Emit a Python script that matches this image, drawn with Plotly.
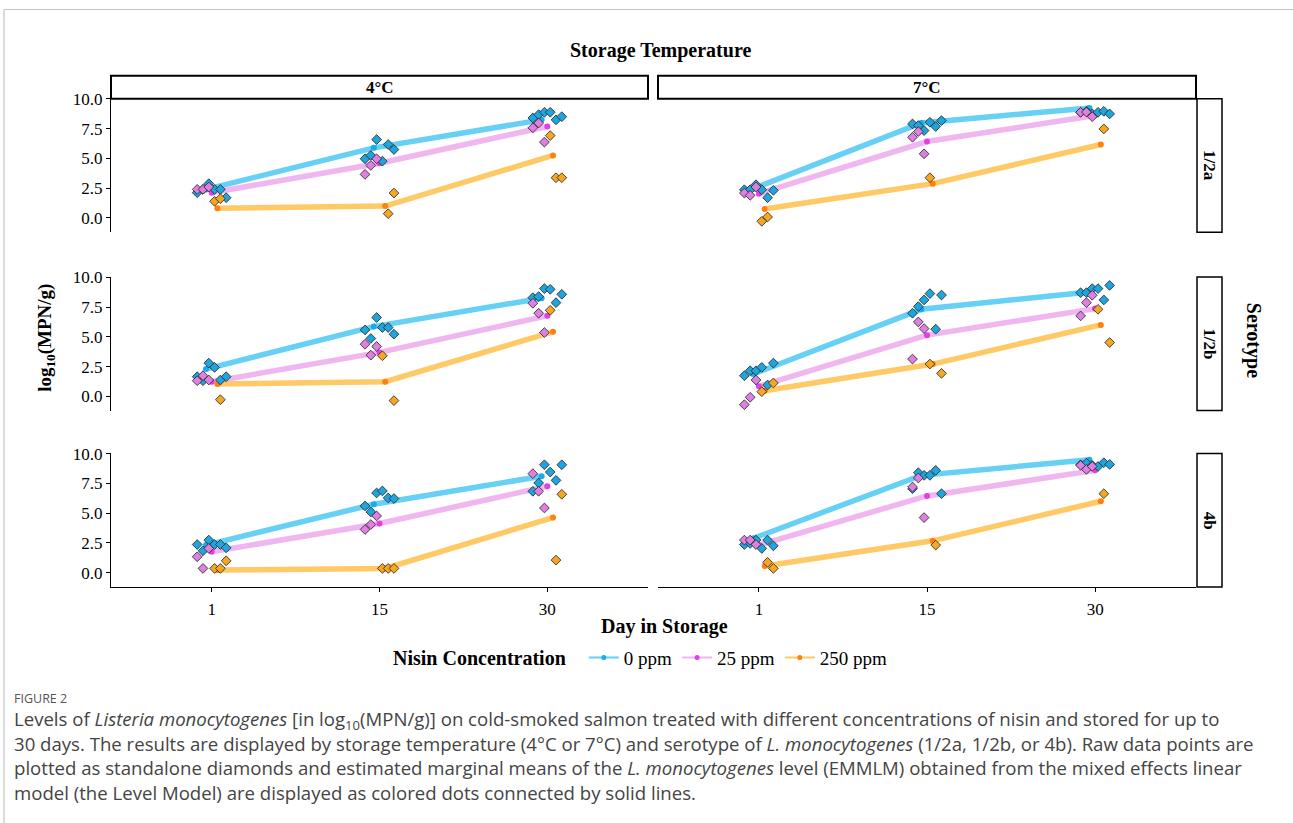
import plotly.graph_objects as go

W, H = 1293, 823

DAYS = ["1", "15", "30"]
TEMPS = ["4°C", "7°C"]
SEROTYPES = ["1/2a", "1/2b", "4b"]
CONCS = ["0 ppm", "25 ppm", "250 ppm"]
REPLICATES = [1, 2, 3, 4, 5, 6]

# Panel order: (4°C,1/2a), (7°C,1/2a), (4°C,1/2b), (7°C,1/2b), (4°C,4b), (7°C,4b)
# Estimated marginal means (EMMLM); columns = day 1, 15, 30
mean_0ppm = [
    [2.40, 5.89, 8.24],
    [2.45, 7.98, 9.24],
    [2.29, 5.86, 8.24],
    [1.87, 7.31, 8.77],
    [2.32, 5.75, 8.10],
    [2.88, 8.18, 9.49],
]
mean_25ppm = [
    [2.12, 4.60, 7.68],
    [2.04, 6.42, 8.60],
    [1.23, 3.69, 6.76],
    [0.84, 5.14, 7.37],
    [1.76, 4.13, 7.26],
    [2.32, 6.45, 8.60],
]
mean_250ppm = [
    [0.81, 1.00, 5.25],
    [0.75, 2.88, 6.17],
    [1.03, 1.23, 5.42],
    [0.47, 2.71, 6.00],
    [0.22, 0.36, 4.63],
    [0.56, 2.68, 6.00],
]

N = None
# Raw observations: panel -> day -> replicate 1..6 (None = not shown)
raw_0ppm = [
    [[2.12, 2.40, 2.88, 2.40, 2.40, 1.70], [4.97, 5.25, 6.59, 4.77, 6.17, 5.75], [8.40, 8.68, 8.88, 8.88, 8.24, 8.51]],
    [[2.37, 2.37, 2.79, 2.37, 1.70, 2.32], [7.90, 7.76, 7.34, 8.04, 7.68, 8.18], [8.88, 8.96, 8.74, 8.88, 8.96, 8.74]],
    [[1.65, 1.31, 2.79, 2.43, 1.37, 1.65], [5.58, 4.86, 6.62, 5.78, 5.78, 5.22], [8.29, 8.38, 9.05, 8.99, 7.87, 8.57]],
    [[1.73, 2.15, 2.15, 2.43, 0.95, 2.79], [6.98, 7.54, 8.10, 8.63, 5.64, 8.51], [8.71, 8.71, 9.05, 9.05, 8.10, 9.32]],
    [[2.37, 1.84, 2.74, 2.37, 2.37, 2.09], [5.61, 5.11, 6.70, 6.87, 6.28, 6.23], [6.84, 7.54, 9.07, 8.46, 7.76, 9.07]],
    [[2.37, 2.46, 2.74, 2.04, 2.74, 2.26], [7.06, 8.40, 8.18, 8.18, 8.60, 6.64], [9.07, 9.21, 9.02, 8.93, 9.24, 9.10]],
]
raw_25ppm = [
    [[2.40, 2.40, 2.60, N, N, N], [3.66, 4.41, 4.97, N, N, N], [7.57, 7.98, 6.37, N, N, N]],
    [[2.09, 1.90, 2.60, N, N, N], [6.78, 7.26, 5.39, N, N, N], [8.88, 8.90, 8.51, N, N, N]],
    [[1.31, 1.73, 1.37, N, N, N], [4.38, 3.46, 4.19, N, N, N], [7.82, 6.98, 5.36, N, N, N]],
    [[-0.70, -0.08, 1.37, N, N, N], [3.13, 6.25, 5.69, N, N, N], [6.76, 7.87, 8.49, N, N, N]],
    [[1.34, 0.36, 2.04, N, N, N], [3.63, 4.05, 4.77, N, N, N], [8.32, 6.84, 5.44, N, N, N]],
    [[2.74, 2.74, 2.37, N, N, N], [7.20, 7.96, 4.63, N, N, N], [9.02, 8.68, 8.93, N, N, N]],
]
raw_250ppm = [
    [[N, N, N, 1.40, 1.62, N], [N, N, N, N, 0.36, 2.09], [N, N, N, 6.92, 3.38, 3.38]],
    [[N, N, N, -0.28, 0.08, N], [N, N, N, 3.38, N, N], [N, N, N, N, 7.48, N]],
    [[N, N, N, N, -0.28, N], [N, N, N, 3.41, N, -0.36], [N, N, N, 7.23, N, N]],
    [[N, N, N, 0.39, N, 1.12], [N, N, N, 2.71, N, 1.93], [N, N, N, 7.31, N, 4.52]],
    [[N, N, N, 0.36, 0.36, 1.00], [N, N, N, 0.36, 0.36, 0.36], [N, N, N, N, 1.06, 6.59]],
    [[N, N, N, N, 0.87, 0.36], [N, N, N, N, 2.32, N], [N, N, N, N, 6.64, N]],
]

MEANS = [mean_0ppm, mean_25ppm, mean_250ppm]
RAWS = [raw_0ppm, raw_25ppm, raw_250ppm]

LINE_COLORS = ["rgba(0,178,238,0.6)", "rgba(226,110,226,0.5)", "rgba(255,165,0,0.6)"]
DOT_COLORS = ["#19aaf0", "#e040e4", "#ff800e"]
DIAMOND_COLORS = ["#1ea5dd", "#df7fdf", "#f5a623"]
DODGE = [-0.034, 0.0, 0.034]
JIT = 0.0345

SERIF = "Liberation Serif"
COL_X = [(111, 648), (658, 1196)]
ROW_Y = [(98, 232), (277, 411), (454, 588)]
Y_RANGE = [-1.2, 10.02]


def fx(px):
    return px / W


def fy(py):
    # compensate the observed vertical offset/scale of the captured page
    yy = max((py - 8.0) / 0.9925, 0.5)
    return 1 - yy / H


fig = go.Figure()

for p in range(6):
    ax = "" if p == 0 else str(p + 1)
    for ci in range(3):
        means = MEANS[ci][p]
        fig.add_trace(go.Scatter(
            x=[d + 1 + DODGE[ci] for d in range(3)], y=means,
            mode="lines+markers",
            line=dict(color=LINE_COLORS[ci], width=5.5),
            marker=dict(color=DOT_COLORS[ci], size=6),
            xaxis="x" + ax, yaxis="y" + ax, showlegend=False, hoverinfo="skip"))
    for ci in range(3):
        raw = RAWS[ci][p]
        xs, ys = [], []
        for d in range(3):
            for k, slot in enumerate(REPLICATES):
                v = raw[d][k]
                if v is None:
                    continue
                xs.append(d + 1 + (slot - 3.5) * JIT)
                ys.append(v)
        fig.add_trace(go.Scatter(
            x=xs, y=ys, mode="markers",
            marker=dict(symbol="diamond", size=7.5, color=DIAMOND_COLORS[ci],
                        line=dict(color="#222222", width=0.8)),
            xaxis="x" + ax, yaxis="y" + ax, showlegend=False, hoverinfo="skip"))

# legend entries
for ci, conc in enumerate(CONCS):
    fig.add_trace(go.Scatter(
        x=[None], y=[None], mode="lines+markers", name=conc,
        line=dict(color=LINE_COLORS[ci], width=2),
        marker=dict(color=DOT_COLORS[ci], size=5)))

layout = dict(
    width=W, height=H,
    margin=dict(l=0, r=0, t=0, b=0),
    paper_bgcolor="white", plot_bgcolor="white",
    showlegend=True,
    legend=dict(
        orientation="h", x=fx(391), xanchor="left", y=fy(659), yanchor="middle",
        title=dict(text="<b>Nisin Concentration</b>  ", side="left",
                   font=dict(family=SERIF, size=20, color="black")),
        font=dict(family=SERIF, size=19, color="black"),
        bgcolor="rgba(0,0,0,0)", itemwidth=30, tracegroupgap=0),
)

for p in range(6):
    r, c = p // 2, p % 2
    ax = "" if p == 0 else str(p + 1)
    layout["xaxis" + ax] = dict(
        domain=[fx(COL_X[c][0]), fx(COL_X[c][1])],
        range=[0.4, 3.6], anchor="y" + ax,
        tickvals=[1, 2, 3], ticktext=DAYS,
        showticklabels=(r == 2), ticks="outside" if r == 2 else "",
        ticklen=4, tickwidth=1, tickcolor="black",
        showline=(r == 2), linecolor="black", linewidth=1.3,
        showgrid=False, zeroline=False, ticklabelstandoff=2,
        tickfont=dict(family=SERIF, size=17, color="black"))
    layout["yaxis" + ax] = dict(
        domain=[fy(ROW_Y[r][1]), fy(ROW_Y[r][0])],
        range=Y_RANGE, anchor="x" + ax,
        tickvals=[0, 2.5, 5, 7.5, 10], ticktext=["0.0", "2.5", "5.0", "7.5", "10.0"],
        showticklabels=(c == 0), ticks="outside" if c == 0 else "",
        ticklen=4, tickwidth=1, tickcolor="black",
        showline=(c == 0), linecolor="black", linewidth=1.3,
        showgrid=False, zeroline=False,
        tickfont=dict(family=SERIF, size=17, color="black"))

fig.update_layout(**layout)

shapes = []
annotations = []

# figure frame
shapes.append(dict(type="line", xref="paper", yref="paper", x0=fx(4), x1=fx(1293), y0=fy(7), y1=fy(7),
                   line=dict(color="#c4c4c4", width=1.2)))
shapes.append(dict(type="line", xref="paper", yref="paper", x0=fx(4), x1=fx(4), y0=fy(7), y1=0,
                   line=dict(color="#c4c4c4", width=1.2)))

# top strips
for c, t in enumerate(TEMPS):
    x0, x1 = COL_X[c]
    shapes.append(dict(type="rect", xref="paper", yref="paper", x0=fx(x0), x1=fx(x1), y0=fy(98), y1=fy(75),
                       line=dict(color="black", width=2), fillcolor="white"))
    annotations.append(dict(text="<b>%s</b>" % t, xref="paper", yref="paper", x=fx((x0 + x1) / 2), y=fy(86.5),
                            showarrow=False, xanchor="center", yanchor="middle",
                            font=dict(family=SERIF, size=17, color="black")))

# right strips
for r, s in enumerate(SEROTYPES):
    y0, y1 = ROW_Y[r]
    shapes.append(dict(type="rect", xref="paper", yref="paper", x0=fx(1197), x1=fx(1222), y0=fy(y1), y1=fy(y0),
                       line=dict(color="black", width=1.5), fillcolor="white"))
    annotations.append(dict(text="<b>%s</b>" % s, xref="paper", yref="paper", x=fx(1209.5), y=fy((y0 + y1) / 2),
                            showarrow=False, xanchor="center", yanchor="middle", textangle=90,
                            font=dict(family=SERIF, size=17, color="black")))

# titles
annotations.append(dict(text="<b>Storage Temperature</b>", xref="paper", yref="paper", x=fx(660), y=fy(50),
                        showarrow=False, xanchor="center", yanchor="middle",
                        font=dict(family=SERIF, size=20, color="black")))
annotations.append(dict(text="<b>Day in Storage</b>", xref="paper", yref="paper", x=fx(664), y=fy(628),
                        showarrow=False, xanchor="center", yanchor="middle",
                        font=dict(family=SERIF, size=20, color="black")))
annotations.append(dict(text="<b>Serotype</b>", xref="paper", yref="paper", x=fx(1253), y=fy(340),
                        showarrow=False, xanchor="center", yanchor="middle", textangle=90,
                        font=dict(family=SERIF, size=20, color="black")))
annotations.append(dict(text="<b>log<sub>10</sub>(MPN/g)</b>", xref="paper", yref="paper", x=fx(46), y=fy(338),
                        showarrow=False, xanchor="center", yanchor="middle", textangle=-90,
                        font=dict(family=SERIF, size=19, color="black")))

# caption
CAP = "Open Sans"
annotations.append(dict(text="FIGURE 2", xref="paper", yref="paper", x=fx(12), y=fy(700),
                        showarrow=False, xanchor="left", yanchor="middle",
                        font=dict(family=CAP, size=12.5, color="#555555")))
caption_lines = [
    "Levels of <i>Listeria monocytogenes</i> [in log<sub>10</sub>(MPN/g)] on cold-smoked salmon treated with different concentrations of nisin and stored for up to",
    "30 days. The results are displayed by storage temperature (4°C or 7°C) and serotype of <i>L. monocytogenes</i> (1/2a, 1/2b, or 4b). Raw data points are",
    "plotted as standalone diamonds and estimated marginal means of the <i>L. monocytogenes</i> level (EMMLM) obtained from the mixed effects linear",
    "model (the Level Model) are displayed as colored dots connected by solid lines.",
]
for i, line in enumerate(caption_lines):
    annotations.append(dict(text=line, xref="paper", yref="paper", x=fx(12), y=fy(721 + 24.3 * i),
                            showarrow=False, xanchor="left", yanchor="middle",
                            font=dict(family=CAP, size=18.6, color="#444444")))

fig.update_layout(shapes=shapes, annotations=annotations)
fig.write_html(
    "out.html",
    config={"displayModeBar": False},
    post_script=("var gd=document.getElementById('{plot_id}');"
                 "document.body.style.margin='0px';"
                 "gd.style.position='fixed';gd.style.top='0px';gd.style.left='0px';"),
)
